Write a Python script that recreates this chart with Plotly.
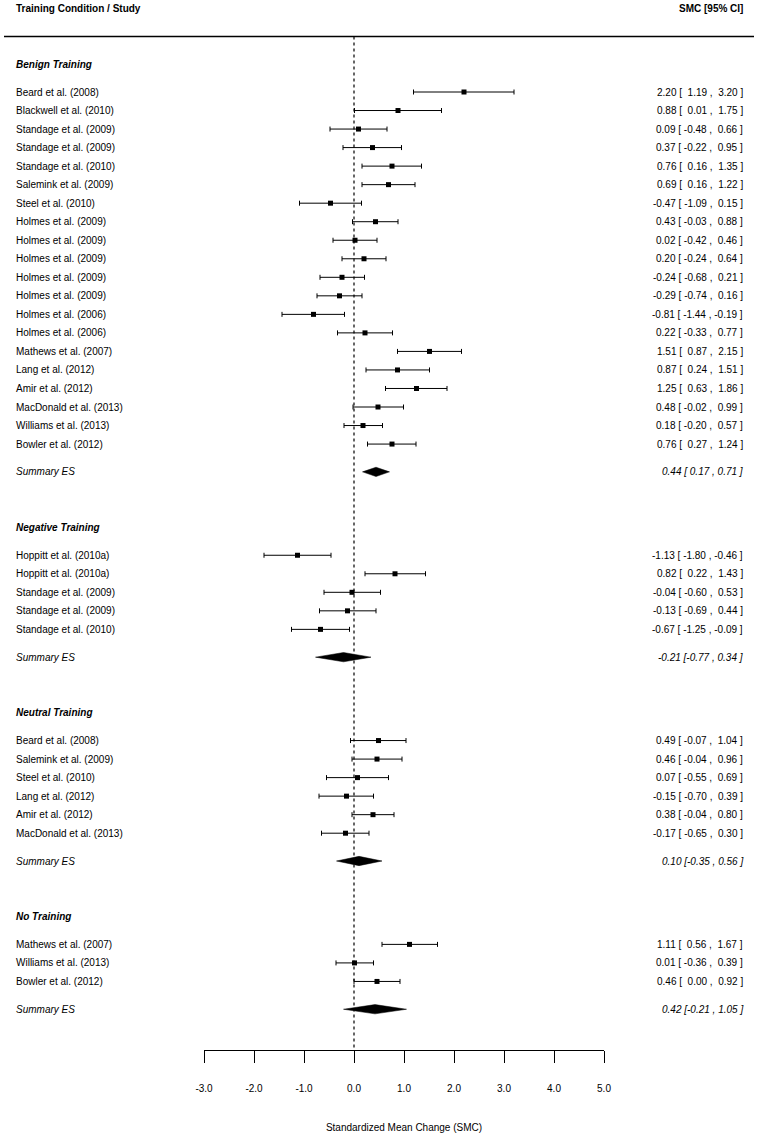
import plotly.graph_objects as go

NB = "\u00a0"

# ---------------- data ----------------
groups = ["Benign Training", "Negative Training", "Neutral Training", "No Training"]

benign_studies = ["Beard et al. (2008)", "Blackwell et al. (2010)", "Standage et al. (2009)",
                  "Standage et al. (2009)", "Standage et al. (2010)", "Salemink et al. (2009)",
                  "Steel et al. (2010)", "Holmes et al. (2009)", "Holmes et al. (2009)",
                  "Holmes et al. (2009)", "Holmes et al. (2009)", "Holmes et al. (2009)",
                  "Holmes et al. (2006)", "Holmes et al. (2006)", "Mathews et al. (2007)",
                  "Lang et al. (2012)", "Amir et al. (2012)", "MacDonald et al. (2013)",
                  "Williams et al. (2013)", "Bowler et al. (2012)"]
benign_est = [2.20, 0.88, 0.09, 0.37, 0.76, 0.69, -0.47, 0.43, 0.02, 0.20, -0.24, -0.29,
              -0.81, 0.22, 1.51, 0.87, 1.25, 0.48, 0.18, 0.76]
benign_lo = [1.19, 0.01, -0.48, -0.22, 0.16, 0.16, -1.09, -0.03, -0.42, -0.24, -0.68, -0.74,
             -1.44, -0.33, 0.87, 0.24, 0.63, -0.02, -0.20, 0.27]
benign_hi = [3.20, 1.75, 0.66, 0.95, 1.35, 1.22, 0.15, 0.88, 0.46, 0.64, 0.21, 0.16,
             -0.19, 0.77, 2.15, 1.51, 1.86, 0.99, 0.57, 1.24]
benign_summary = [0.44, 0.17, 0.71]

negative_studies = ["Hoppitt et al. (2010a)", "Hoppitt et al. (2010a)", "Standage et al. (2009)",
                    "Standage et al. (2009)", "Standage et al. (2010)"]
negative_est = [-1.13, 0.82, -0.04, -0.13, -0.67]
negative_lo = [-1.80, 0.22, -0.60, -0.69, -1.25]
negative_hi = [-0.46, 1.43, 0.53, 0.44, -0.09]
negative_summary = [-0.21, -0.77, 0.34]

neutral_studies = ["Beard et al. (2008)", "Salemink et al. (2009)", "Steel et al. (2010)",
                   "Lang et al. (2012)", "Amir et al. (2012)", "MacDonald et al. (2013)"]
neutral_est = [0.49, 0.46, 0.07, -0.15, 0.38, -0.17]
neutral_lo = [-0.07, -0.04, -0.55, -0.70, -0.04, -0.65]
neutral_hi = [1.04, 0.96, 0.69, 0.39, 0.80, 0.30]
neutral_summary = [0.10, -0.35, 0.56]

none_studies = ["Mathews et al. (2007)", "Williams et al. (2013)", "Bowler et al. (2012)"]
none_est = [1.11, 0.01, 0.46]
none_lo = [0.56, -0.36, 0.00]
none_hi = [1.67, 0.39, 0.92]
none_summary = [0.42, -0.21, 1.05]

tick_vals = [-3, -2, -1, 0, 1, 2, 3, 4, 5]
tick_text = ["-3.0", "-2.0", "-1.0", "0.0", "1.0", "2.0", "3.0", "4.0", "5.0"]

group_data = [
    (benign_studies, benign_est, benign_lo, benign_hi, benign_summary),
    (negative_studies, negative_est, negative_lo, negative_hi, negative_summary),
    (neutral_studies, neutral_est, neutral_lo, neutral_hi, neutral_summary),
    (none_studies, none_est, none_lo, none_hi, none_summary),
]

# ---------------- layout constants ----------------
W, H = 759, 1135
ROW_PX = 18.53          # pixel height of one row
FIRST_PX = 92           # pixel of first row (row 0)
PLOT_BOTTOM_PX = 1050   # pixel of the x axis line
FONT = "Liberation Sans, Arial, sans-serif"
LEFT_X = 14 / W
RIGHT_X = 745 / W


def pad(v):
    return f"{v:5.2f}".replace(" ", NB)


def ci_text(e, lo, hi):
    return (f"{e:.2f} [ {pad(lo)} , {pad(hi)} ]").replace(" ", NB)


def sum_text(e, lo, hi):
    return (f"{e:.2f} [{pad(lo)} , {hi:.2f} ]").replace(" ", NB)


def txt(x, y, text, anchor):
    return dict(x=x, y=y, xref="paper", yref="y", text=text, showarrow=False,
                xanchor=anchor, yanchor="middle",
                font=dict(family=FONT, size=10, color="black"))


fig = go.Figure()
annotations = []

all_x, all_y, all_lo, all_hi = [], [], [], []
row = -1.5
for gname, (studies, est, lo, hi, summ) in zip(groups, group_data):
    annotations.append(txt(LEFT_X, -row, f"<b><i>{gname}</i></b>", "left"))
    row += 1.5
    for s, e, l, h in zip(studies, est, lo, hi):
        all_x.append(e)
        all_y.append(-row)
        all_lo.append(e - l)
        all_hi.append(h - e)
        annotations.append(txt(LEFT_X, -row, s, "left"))
        annotations.append(txt(RIGHT_X, -row, ci_text(e, l, h), "right"))
        row += 1
    row += 0.5
    se, sl, sh = summ
    dh = 0.25
    fig.add_trace(go.Scatter(x=[sl, se, sh, se, sl], y=[-row, -row + dh, -row, -row - dh, -row],
                             mode="lines", fill="toself", fillcolor="black",
                             line=dict(color="black", width=0.5), hoverinfo="skip",
                             showlegend=False, cliponaxis=False))
    annotations.append(txt(LEFT_X, -row, "<i>Summary ES</i>", "left"))
    annotations.append(txt(RIGHT_X, -row, f"<i>{sum_text(se, sl, sh)}</i>", "right"))
    row += 3

fig.add_trace(go.Scatter(
    x=all_x, y=all_y, mode="markers",
    marker=dict(symbol="square", size=5, color="black"),
    error_x=dict(type="data", array=all_hi, arrayminus=all_lo, width=2.5,
                 thickness=1, color="black"),
    showlegend=False, cliponaxis=False, hoverinfo="skip"))

y_top = FIRST_PX / ROW_PX
y_bot = -(PLOT_BOTTOM_PX - FIRST_PX) / ROW_PX

# header
annotations.append(txt(LEFT_X, 4.5, "<b>Training Condition / Study</b>", "left"))
annotations.append(txt(RIGHT_X, 4.5, "<b>SMC [95% CI]</b>", "right"))

shapes = [
    dict(type="line", xref="paper", yref="y", x0=4 / W, x1=754 / W, y0=3, y1=3,
         line=dict(color="black", width=1.5)),
    dict(type="line", xref="x", yref="y", x0=0, x1=0, y0=3, y1=y_bot,
         line=dict(color="black", width=1.2, dash="dot")),
]

fig.update_layout(
    width=W, height=H,
    margin=dict(l=0, r=0, t=0, b=H - PLOT_BOTTOM_PX),
    paper_bgcolor="white", plot_bgcolor="white",
    annotations=annotations, shapes=shapes,
    showlegend=False,
    xaxis=dict(domain=[204 / W, 604 / W], range=[-3, 5], showgrid=False, zeroline=False,
               showline=True, linecolor="black", linewidth=1,
               ticks="outside", ticklen=12, tickwidth=1, tickcolor="black",
               tickvals=tick_vals, ticktext=tick_text, ticklabelstandoff=17,
               tickfont=dict(family=FONT, size=10, color="black"),
               title=dict(text="Standardized Mean Change (SMC)", standoff=30,
                          font=dict(family=FONT, size=10, color="black")),
               automargin=False, fixedrange=True),
    yaxis=dict(range=[y_bot, y_top], visible=False, showgrid=False, zeroline=False,
               fixedrange=True),
)

fig.write_html("out.html", config={"displayModeBar": False},
               post_script="document.body.style.margin='0';document.body.style.overflow='hidden';")
